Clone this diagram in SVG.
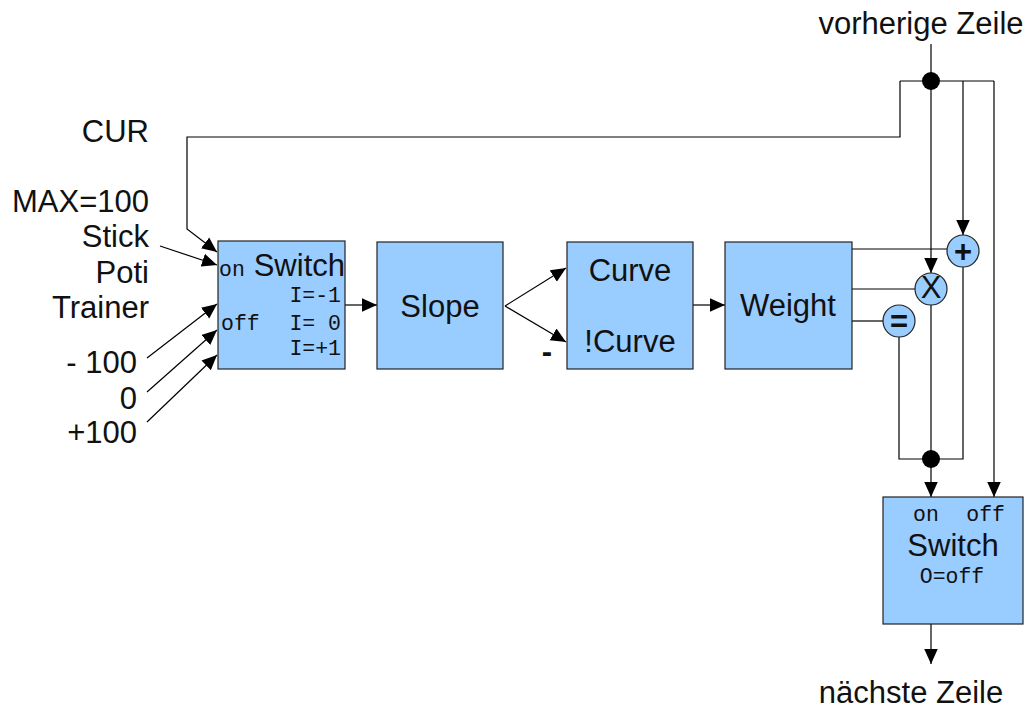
<svg xmlns="http://www.w3.org/2000/svg" width="1028" height="709" viewBox="0 0 1028 709">
<defs>
<marker id="arr" viewBox="0 0 10 10" refX="10" refY="5" markerWidth="15" markerHeight="15" markerUnits="userSpaceOnUse" orient="auto"><path d="M0,0.5 L10,5 L0,9.5 Z" fill="#000"/></marker>
<style>
.box{fill:#99ccff;stroke:#222;stroke-width:1.2}
.ln{fill:none;stroke:#000;stroke-width:1.2}
.t{font-family:"Liberation Sans",Arial,sans-serif;font-size:31px;fill:#111}
.m{font-family:"Liberation Mono","Courier New",monospace;font-size:21.5px;fill:#111}
.dot{fill:#000}
</style>
</defs>
<rect width="1028" height="709" fill="#fff"/>
<g id="connectors">
<path class="ln" d="M931,44 V81"/>
<path class="ln" d="M900,81 H994"/>
<path class="ln" d="M900,81 V137 H187 V229 L217,252" marker-end="url(#arr)"/>
<path class="ln" d="M160,246 L217,265" marker-end="url(#arr)"/>
<path class="ln" d="M147,358 L217,304" marker-end="url(#arr)"/>
<path class="ln" d="M147,392 L217,330" marker-end="url(#arr)"/>
<path class="ln" d="M147,422 L217,355" marker-end="url(#arr)"/>
<path class="ln" d="M345,305 H377" marker-end="url(#arr)"/>
<path class="ln" d="M505,306 L566,268" marker-end="url(#arr)"/>
<path class="ln" d="M505,306 L566,342" marker-end="url(#arr)"/>
<path class="ln" d="M693,305 H725" marker-end="url(#arr)"/>
<path class="ln" d="M852,249 H947"/>
<path class="ln" d="M852,289 H915"/>
<path class="ln" d="M852,321 H883"/>
<path class="ln" d="M931,81 V273" marker-end="url(#arr)"/>
<path class="ln" d="M963,81 V235" marker-end="url(#arr)"/>
<path class="ln" d="M994,81 V497" marker-end="url(#arr)"/>
<path class="ln" d="M931,305 V459"/>
<path class="ln" d="M963,267 V459 H931"/>
<path class="ln" d="M899,337 V459 H931"/>
<path class="ln" d="M931,459 V497" marker-end="url(#arr)"/>
<path class="ln" d="M931,624 V664" marker-end="url(#arr)"/>
<circle class="dot" cx="931" cy="81" r="9"/>
<circle class="dot" cx="931" cy="459" r="9"/>
</g>
<g id="labels">
<text class="t" x="921" y="34" text-anchor="middle">vorherige Zeile</text>
<text class="t" x="911" y="703" text-anchor="middle">nächste Zeile</text>
<text class="t" x="149" y="142" text-anchor="end">CUR</text>
<text class="t" x="149" y="212" text-anchor="end">MAX=100</text>
<text class="t" x="149" y="247" text-anchor="end">Stick</text>
<text class="t" x="149" y="283" text-anchor="end">Poti</text>
<text class="t" x="149" y="318" text-anchor="end">Trainer</text>
<text class="t" x="137" y="373" text-anchor="end">- 100</text>
<text class="t" x="137" y="409" text-anchor="end">0</text>
<text class="t" x="137" y="443" text-anchor="end">+100</text>
<text class="t" x="547" y="362" text-anchor="middle" font-weight="bold">-</text>
</g>
<g id="switch1">
<rect class="box" x="218" y="241" width="127" height="128"/>
<text class="m" x="219" y="276">on</text>
<text class="t" x="345" y="276" text-anchor="end">Switch</text>
<text class="m" x="341" y="302" text-anchor="end">I=-1</text>
<text class="m" x="221" y="330">off</text>
<text class="m" x="341" y="330" text-anchor="end" xml:space="preserve">I= 0</text>
<text class="m" x="341" y="355" text-anchor="end">I=+1</text>
</g>
<g id="slope">
<rect class="box" x="377" y="242" width="126" height="127"/>
<text class="t" x="440" y="317" text-anchor="middle">Slope</text>
</g>
<g id="curve">
<rect class="box" x="567" y="242" width="126" height="127"/>
<text class="t" x="630" y="281" text-anchor="middle">Curve</text>
<text class="t" x="630" y="352" text-anchor="middle">!Curve</text>
</g>
<g id="weight">
<rect class="box" x="725" y="242" width="127" height="127"/>
<text class="t" x="788" y="316" text-anchor="middle">Weight</text>
</g>
<g id="plus">
<circle class="box" cx="963" cy="251" r="16"/>
<text class="t" x="963" y="262" text-anchor="middle" font-weight="bold">+</text>
</g>
<g id="times">
<circle class="box" cx="931" cy="289" r="16"/>
<text class="t" x="931" y="298" text-anchor="middle" font-size="24">X</text>
</g>
<g id="equals">
<circle class="box" cx="899" cy="321" r="16"/>
<text class="t" x="899" y="332" text-anchor="middle" font-weight="bold">=</text>
</g>
<g id="switch2">
<rect class="box" x="883" y="497" width="140" height="127"/>
<text class="m" x="913" y="521">on</text>
<text class="m" x="1005" y="521" text-anchor="end">off</text>
<text class="t" x="953" y="556" text-anchor="middle">Switch</text>
<text class="m" x="952" y="583" text-anchor="middle">O=off</text>
</g>
</svg>
